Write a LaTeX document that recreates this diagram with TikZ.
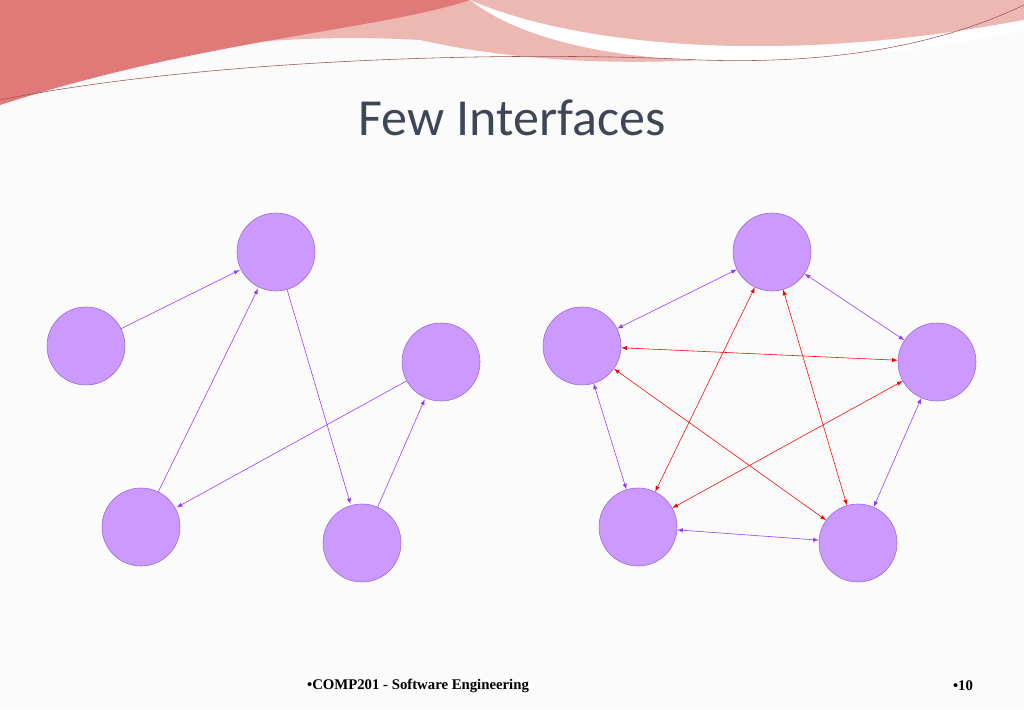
\documentclass[tikz,border=0pt]{standalone}
\usepackage{fontspec}
\setsansfont{Carlito}
\setmainfont{Liberation Serif}
\definecolor{modfill}{HTML}{CC99FF}
\definecolor{modline}{HTML}{9966DD}
\definecolor{linkpurple}{HTML}{9933FF}
\definecolor{bandred}{HTML}{E07A78}
\definecolor{bandpink}{HTML}{EDB7B2}
\definecolor{titlegray}{HTML}{3F4656}
\tikzset{
    module/.style={circle, draw=modline, fill=modfill, minimum size=78*0.025cm, inner sep=0pt},
    link/.style={draw=linkpurple, -latex, shorten >=1pt},
    both/.style={draw=linkpurple, latex-latex},
    cross/.style={draw=red, latex-latex}
}
\begin{document}
\begin{tikzpicture}[x=0.025cm, y=-0.025cm]
        \useasboundingbox (0,0) rectangle (1024,709);
        \fill[gray!3] (0,0) rectangle (1024,709);
        % top band
        \fill[bandpink] (0,0) -- (1024,0) -- (1024,20) .. controls (800,60) and (600,80) .. (420,40) .. controls (250,30) and (80,60) .. (0,100) -- cycle;
        \fill[bandred] (0,0) -- (470,0) .. controls (380,30) and (200,40) .. (0,105) -- cycle;
        \fill[white] (470,0) .. controls (560,40) and (760,70) .. (1024,20) -- (1024,30) .. controls (780,80) and (560,70) .. (470,0);
        \draw[bandred!70!black, thin] (0,100) .. controls (200,60) and (500,50) .. (700,60) .. controls (850,65) and (950,40) .. (1024,5);
        \node (title) at (512,118) {\sffamily\fontsize{37}{37}\selectfont\color{titlegray} Few Interfaces};
        % left graph
        \node[module] (a) at (276,252) {};
        \node[module] (b) at (86,346) {};
        \node[module] (c) at (441,362) {};
        \node[module] (d) at (141,527) {};
        \node[module] (e) at (362,543) {};
        \draw[link] (b) -- (a);
        \draw[link] (d) -- (a);
        \draw[link] (a) -- (e);
        \draw[link] (c) -- (d);
        \draw[link] (e) -- (c);
        % right graph
        \node[module] (p1) at (772,252) {};
        \node[module] (p2) at (582,346) {};
        \node[module] (p3) at (937,362) {};
        \node[module] (p4) at (638,527) {};
        \node[module] (p5) at (858,543) {};
        \draw[both] (p1) -- (p2);
        \draw[both] (p1) -- (p3);
        \draw[both] (p2) -- (p4);
        \draw[both] (p3) -- (p5);
        \draw[both] (p4) -- (p5);
        \draw[cross] (p2) -- (p3);
        \draw[cross] (p2) -- (p5);
        \draw[cross] (p1) -- (p4);
        \draw[cross] (p1) -- (p5);
        \draw[cross] (p3) -- (p4);
        % footer
        \node (foot) at (418,686) {\fontsize{10.5}{10.5}\selectfont\textbf{•COMP201 - Software Engineering}};
        \node (page) at (963,686) {\fontsize{10.5}{10.5}\selectfont\textbf{•10}};
\end{tikzpicture}
\end{document}
